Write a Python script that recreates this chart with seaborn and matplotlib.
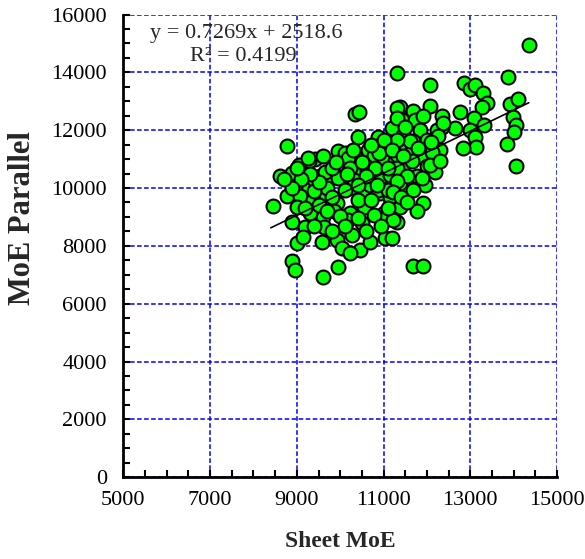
import numpy as np
import pandas as pd
import matplotlib
matplotlib.use("Agg")
import matplotlib.pyplot as plt
import seaborn as sns
from matplotlib.ticker import MultipleLocator, FixedLocator

# Sheet MoE (x) and parallel MoE (y) for each board
sheet_moe = [
    14360, 11310, 13860, 12075, 12860, 13000, 13110, 13290, 13380, 13270,
    12770, 13080, 13310, 13000, 13110, 13140, 12840, 12650, 13920, 14110,
    13980, 14060, 14000, 13850, 14060, 12075, 11370, 11690, 12350, 11420,
    11730, 12350, 12230, 11190, 11460, 11850, 12000, 12310, 11690, 11350,
    11650, 11920, 11270, 11500, 12000, 12190, 11770, 11310, 11380, 11960,
    11690, 11230, 11380, 11920, 11770, 11310, 11690, 11920, 11310, 12380,
    11310, 11230, 11610, 12110, 11650, 12080, 11880,
    10350, 10440, 10420, 8770, 9940, 10110, 9420, 9290, 9050, 8880,
    8620, 9540, 9730, 10000, 10230, 10380, 10620, 10650, 10880, 11150,
    10380, 9350, 9150, 8960, 8770, 9080, 9600, 9380, 9000, 8450,
    9920, 10230, 10540, 10730, 10920, 11150, 10540, 10230, 9850, 9610,
    9310, 8880, 9190, 9630, 10080, 10190, 10500, 10270, 9920, 9580,
    9000, 10040, 10460, 10690, 11040, 10230, 8880, 8960, 9610, 9940,
    11000, 11230, 11080, 11110, 10920, 11310, 10770, 11000, 10190, 9650,
    9960, 10230, 10620, 10310, 10690, 10920, 11150, 11270, 9690, 10110,
    10880, 11110, 10770,
    11310, 12310, 11310, 11540, 11310, 11230, 11190, 10800, 10500, 10900,
    11100, 10600, 10400, 10150, 9800, 9900, 10300, 10700, 11000, 11200,
    11450, 10850, 10400, 10700, 9800, 9500, 9200, 9400, 9500, 9300,
    9100, 8900, 9700, 10000, 10400, 10100, 9400, 9800, 10600, 9150,
    11400, 11550, 11100, 10950, 11500, 11900, 12250, 11800, 12100, 9000,
    8700, 9250, 9600,
]
moe_parallel = [
    14950, 13970, 13850, 13560, 13620, 13410, 13560, 13270, 12930, 12790,
    12640, 12410, 12180, 12000, 11770, 11410, 11380, 12060, 12890, 13070,
    12470, 12180, 11950, 11540, 10770, 12850, 12790, 12670, 12500, 12360,
    12340, 12110, 12000, 12070, 11830, 12000, 11670, 11320, 11610, 11490,
    11260, 11090, 11090, 10860, 10750, 10570, 10400, 10520, 10170, 10110,
    9940, 9650, 9360, 9480, 9190, 8840, 7290, 7290, 12760, 12250,
    12420, 11550, 11610, 11260, 10920, 10800, 10340,
    12560, 12630, 11760, 11460, 11290, 11210, 11000, 10920, 10800, 10520,
    10400, 10400, 10430, 10380, 10750, 11030, 11030, 11320, 11780, 11490,
    10520, 10110, 10000, 10050, 9710, 9710, 9820, 9590, 9360, 9390,
    9480, 10000, 9820, 10110, 9820, 9680, 9330, 9130, 9190, 9010,
    9130, 8840, 8670, 8670, 8550, 8900, 8790, 8380, 8210, 8150,
    8090, 7920, 7860, 8150, 8270, 7750, 7460, 7150, 6940, 7260,
    9130, 8900, 10280, 11550, 11490, 11670, 11150, 10920, 11030, 10570,
    10340, 10690, 10630, 10280, 10110, 10340, 10460, 10920, 10000, 9940,
    9940, 9940, 9070,
    11150, 10920, 10690, 10400, 10230, 9880, 8270, 10700, 10900, 11200,
    10700, 10400, 10100, 10500, 10700, 10900, 11300, 11500, 11650, 11300,
    11100, 10100, 9600, 9600, 9700, 9400, 9300, 9900, 10200, 10500,
    10300, 10000, 9200, 9050, 8950, 8700, 8700, 8500, 8500, 8300,
    9700, 9500, 9300, 8700, 12100, 12500, 11800, 11400, 11600, 10700,
    10300, 11050, 11100,
]

# Linear fit reported on the chart
slope = 0.7269
intercept = 2518.6
r_squared = 0.4199
fit_x = [8400, 14350]

x_ticks = [5000, 7000, 9000, 11000, 13000, 15000]
y_ticks = [0, 2000, 4000, 6000, 8000, 10000, 12000, 14000, 16000]

df = pd.DataFrame({"Sheet MoE": sheet_moe, "MoE Parallel": moe_parallel})

sns.set_style("white")
plt.rcParams["font.family"] = ["Liberation Serif", "DejaVu Serif"]

fig = plt.figure(figsize=(5.85, 5.59), dpi=100)
ax = fig.add_axes([0.211, 0.1463, 0.741, 0.8277])

sns.scatterplot(data=df, x="Sheet MoE", y="MoE Parallel", ax=ax,
                s=100, color="#00FF00", edgecolor="black", linewidth=1.5,
                zorder=3, legend=False)

fx = np.array(fit_x, dtype=float)
ax.plot(fx, slope * fx + intercept, color="black", lw=1.2, zorder=4)

ax.set_xlim(x_ticks[0], x_ticks[-1])
ax.set_ylim(y_ticks[0], y_ticks[-1])
ax.xaxis.set_major_locator(FixedLocator(x_ticks))
ax.yaxis.set_major_locator(FixedLocator(y_ticks))
ax.xaxis.set_minor_locator(MultipleLocator(500))
ax.yaxis.set_minor_locator(MultipleLocator(500))

ax.grid(True, which="major", color="#0000FF", linestyle=(0, (3, 1.6)), lw=1.1, zorder=1)
ax.set_axisbelow(True)

for side in ("top", "right"):
    ax.spines[side].set_visible(False)
for side in ("left", "bottom"):
    ax.spines[side].set_color("black")
    ax.spines[side].set_linewidth(2)

ax.tick_params(which="both", direction="in", length=5, width=1.5, colors="black",
               labelsize=16, top=False, right=False, left=True, bottom=True)
ax.tick_params(axis="x", which="major", pad=10)
ax.tick_params(axis="y", which="major", pad=12)

ax.set_xlabel("Sheet MoE", fontsize=17, fontweight="bold", labelpad=15)
ax.set_ylabel("MoE Parallel", fontsize=22, fontweight="bold")
ax.yaxis.set_label_coords(-0.2, 0.56)

ax.text(0.283, 0.958, f"y = {slope}x + {intercept}", transform=ax.transAxes,
        ha="center", va="center", fontsize=16, zorder=5)
ax.text(0.277, 0.910, f"R² = {r_squared}", transform=ax.transAxes,
        ha="center", va="center", fontsize=16, zorder=5)

fig.savefig("out.png", dpi=100)
